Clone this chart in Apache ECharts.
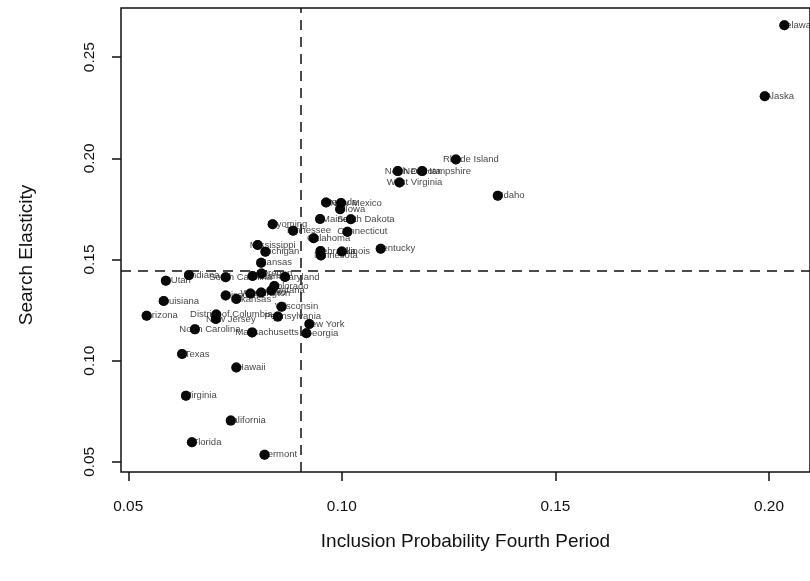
<!DOCTYPE html>
<html>
<head>
<meta charset="utf-8">
<script src="https://cdn.jsdelivr.net/npm/echarts@6/dist/echarts.min.js"></script>
<style>
  html, body { margin: 0; padding: 0; background: #fff; }
  #chart { width: 810px; height: 581px; }
</style>
</head>
<body>
<div id="chart"></div>
<script>
// States (plus DC) and their two measures
const states = [
  'Alabama', 'Alaska', 'Arizona', 'Arkansas', 'California', 'Colorado', 'Connecticut',
  'Delaware', 'District of Columbia', 'Florida', 'Georgia', 'Hawaii', 'Idaho', 'Illinois',
  'Indiana', 'Iowa', 'Kansas', 'Kentucky', 'Louisiana', 'Maine', 'Maryland', 'Massachusetts',
  'Michigan', 'Minnesota', 'Mississippi', 'Missouri', 'Montana', 'Nebraska', 'Nevada',
  'New Hampshire', 'New Jersey', 'New Mexico', 'New York', 'North Carolina', 'North Dakota',
  'Ohio', 'Oklahoma', 'Oregon', 'Pennsylvania', 'Rhode Island', 'South Carolina',
  'South Dakota', 'Tennessee', 'Texas', 'Utah', 'Vermont', 'Virginia', 'Washington',
  'West Virginia', 'Wisconsin', 'Wyoming'
];

const inclusionProb = [
  0.0791, 0.1990, 0.0543, 0.0753, 0.0740, 0.0842, 0.1013,
  0.2036, 0.0706, 0.0649, 0.0917, 0.0753, 0.1365, 0.1000,
  0.0642, 0.0996, 0.0811, 0.1091, 0.0583, 0.0949, 0.0867, 0.0790,
  0.0821, 0.0951, 0.0803, 0.0728, 0.0835, 0.0950, 0.0963,
  0.1188, 0.0705, 0.0998, 0.0924, 0.0656, 0.1131,
  0.0811, 0.0934, 0.0812, 0.0850, 0.1267, 0.0728,
  0.1021, 0.0886, 0.0626, 0.0588, 0.0819, 0.0635, 0.0786,
  0.1135, 0.0859, 0.0838
];

const searchElasticity = [
  0.1419, 0.2307, 0.1222, 0.1305, 0.0704, 0.1369, 0.1637,
  0.2658, 0.1228, 0.0597, 0.1136, 0.0966, 0.1815, 0.1540,
  0.1423, 0.1749, 0.1484, 0.1553, 0.1295, 0.1700, 0.1414, 0.1140,
  0.1539, 0.1520, 0.1572, 0.1322, 0.1347, 0.1542, 0.1782,
  0.1937, 0.1206, 0.1779, 0.1181, 0.1155, 0.1937,
  0.1337, 0.1605, 0.1431, 0.1218, 0.1994, 0.1412,
  0.1699, 0.1642, 0.1033, 0.1395, 0.0535, 0.0827, 0.1332,
  0.1881, 0.1267, 0.1674
];

const xTicks = [0.05, 0.10, 0.15, 0.20];
const yTicks = [0.05, 0.10, 0.15, 0.20, 0.25];

const xRange = [0.0483, 0.2096];
const yRange = [0.0450, 0.2743];

// reference lines at the sample means
const mean = arr => arr.reduce((s, v) => s + v, 0) / arr.length;
const xMean = mean(inclusionProb);
const yMean = mean(searchElasticity);

const points = states.map((s, i) => ({ name: s, value: [inclusionProb[i], searchElasticity[i]] }));

const FONT = "'Liberation Sans', Arial, Helvetica, sans-serif";
const INK = '#111';

const chart = echarts.init(document.getElementById('chart'), null, { renderer: 'canvas' });

chart.setOption({
  animation: false,
  backgroundColor: '#fff',
  grid: {
    left: 121, top: 8, width: 692, height: 464,
    show: true, borderColor: INK, borderWidth: 1.5, backgroundColor: 'transparent'
  },
  graphic: [{
    type: 'text',
    x: 27, y: 255,
    rotation: Math.PI / 2,
    silent: true,
    style: {
      text: 'Search Elasticity',
      fontFamily: FONT, fontSize: 19,
      fill: INK,
      align: 'center', verticalAlign: 'middle'
    }
  }],
  xAxis: {
    type: 'value',
    min: xRange[0], max: xRange[1],
    name: 'Inclusion Probability Fourth Period',
    nameLocation: 'middle',
    nameGap: 60,
    nameTextStyle: { fontFamily: FONT, fontSize: 19, color: INK },
    axisLine: { show: false },
    splitLine: { show: false },
    axisTick: {
      show: true, inside: false, length: 9, customValues: xTicks,
      lineStyle: { color: INK, width: 1.5 }
    },
    axisLabel: {
      customValues: xTicks, margin: 27,
      fontFamily: FONT, fontSize: 15.4, color: INK,
      formatter: v => v.toFixed(2)
    }
  },
  yAxis: {
    type: 'value',
    min: yRange[0], max: yRange[1],
    axisLine: { show: false },
    splitLine: { show: false },
    axisTick: {
      show: true, inside: false, length: 9, customValues: yTicks,
      lineStyle: { color: INK, width: 1.5 }
    },
    axisLabel: {
      customValues: yTicks, margin: 24, rotate: 90,
      fontFamily: FONT, fontSize: 15.4, color: INK,
      formatter: v => v.toFixed(2)
    }
  },
  series: [
    {
      // state names, sitting beneath the dots
      type: 'scatter',
      z: 2,
      silent: true,
      data: points,
      symbol: 'circle',
      symbolSize: 10,
      itemStyle: { color: '#000' },
      label: {
        show: true,
        position: 'inside',
        offset: [15, 0],
        align: 'center',
        verticalAlign: 'middle',
        formatter: p => p.name,
        fontFamily: FONT,
        fontSize: 9.5,
        color: INK
      },
      markLine: {
        silent: true,
        precision: 8,
        symbol: ['none', 'none'],
        label: { show: false },
        lineStyle: { color: INK, width: 1.5, type: [10, 7] },
        data: [{ xAxis: xMean }, { yAxis: yMean }]
      }
    },
    {
      // dots drawn over the names
      type: 'scatter',
      z: 3,
      silent: true,
      data: points,
      symbol: 'circle',
      symbolSize: 10,
      itemStyle: { color: '#000' },
      label: { show: false }
    }
  ]
});
</script>
</body>
</html>
